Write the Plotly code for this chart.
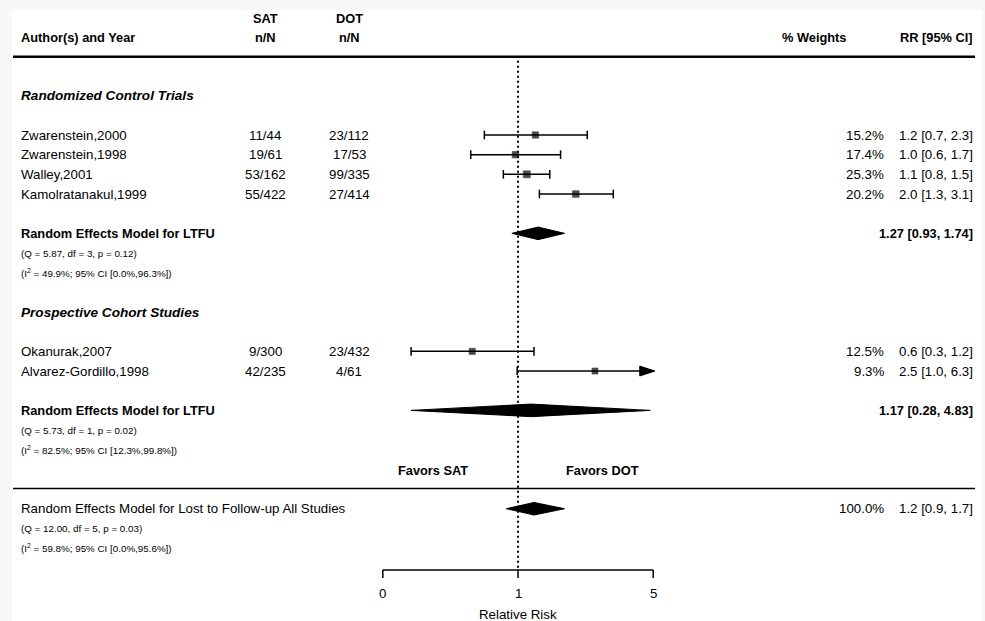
import math
import plotly.graph_objects as go

# ---------------- data ----------------
rct_studies = ["Zwarenstein,2000", "Zwarenstein,1998", "Walley,2001", "Kamolratanakul,1999"]
rct_sat = ["11/44", "19/61", "53/162", "55/422"]
rct_dot = ["23/112", "17/53", "99/335", "27/414"]
rct_weight = [15.2, 17.4, 25.3, 20.2]
rct_rr = [1.23, 0.97, 1.11, 1.99]
rct_lo = [0.67, 0.57, 0.84, 1.29]
rct_hi = [2.28, 1.66, 1.46, 3.11]

coh_studies = ["Okanurak,2007", "Alvarez-Gordillo,1998"]
coh_sat = ["9/300", "42/235"]
coh_dot = ["23/432", "4/61"]
coh_weight = [12.5, 9.3]
coh_rr = [0.58, 2.50]
coh_lo = [0.28, 0.99]
coh_hi = [1.21, 6.3]

summary_names = ["Random Effects Model for LTFU", "Random Effects Model for LTFU",
                 "Random Effects Model for Lost to Follow-up All Studies"]
summary_rr = [1.27, 1.17, 1.21]
summary_lo = [0.93, 0.28, 0.87]
summary_hi = [1.74, 4.83, 1.74]
summary_rr_text = ["1.27 [0.93, 1.74]", "1.17 [0.28, 4.83]", "1.2 [0.9, 1.7]"]
summary_weight_text = ["", "", "100.0%"]
summary_q = ["(Q = 5.87, df = 3, p = 0.12)", "(Q = 5.73, df = 1, p = 0.02)",
             "(Q = 12.00, df = 5, p = 0.03)"]
summary_i2 = ["(I<sup>2</sup> = 49.9%; 95% CI [0.0%,96.3%])",
              "(I<sup>2</sup> = 82.5%; 95% CI [12.3%,99.8%])",
              "(I<sup>2</sup> = 59.8%; 95% CI [0.0%,95.6%])"]

group_titles = ["Randomized Control Trials", "Prospective Cohort Studies"]
axis_ticks = [0.2, 1, 5]
axis_tick_labels = ["0", "1", "5"]
axis_title = "Relative Risk"
favors_labels = ["Favors SAT", "Favors DOT"]

# ---------------- layout geometry ----------------
W, H = 985, 621
X0PX, PXLN = 518.0, 84.0          # pixel of RR=1, pixels per ln unit
R0PX, ROWPX = 135.0, 19.67        # pixel of row 0, pixels per row
x_range = [-X0PX / PXLN, (W - X0PX) / PXLN]
y_range = [(H - R0PX) / ROWPX, -R0PX / ROWPX]

rct_rows = [0, 1, 2, 3]
coh_rows = [11, 12]
summary_rows = [5, 14, 19]
title_rows = [-2, 9]
ROW_H1, ROW_H2, ROW_HLINE = -5.93, -4.97, -3.98
ROW_FAV, ROW_SEP, ROW_AXIS, ROW_TICKLAB, ROW_XLAB = 17.05, 17.97, 22.12, 23.3, 24.4
XMAX = max(axis_ticks)

FONT = "Liberation Sans, Arial, sans-serif"
NORMAL, BOLD, SMALL, TITLE = 13.3, 12.8, 9.8, 13.6
CAP = 0.22
DIAM = 0.32

def px(xp):
    return xp / W

L = math.log
studies = rct_studies + coh_studies
sat = rct_sat + coh_sat
dot = rct_dot + coh_dot
weight = rct_weight + coh_weight
rr = rct_rr + coh_rr
lo = rct_lo + coh_lo
hi = rct_hi + coh_hi
rows = rct_rows + coh_rows

fig = go.Figure()

# CI lines with caps
lx, ly = [], []
for r, a, b in zip(rows, lo, hi):
    bb = min(b, XMAX)
    lx += [L(a), L(bb), None, L(a), L(a), None]
    ly += [r, r, None, r - CAP, r + CAP, None]
    if b <= XMAX:
        lx += [L(b), L(b), None]
        ly += [r - CAP, r + CAP, None]
fig.add_trace(go.Scatter(x=lx, y=ly, mode="lines", line=dict(color="black", width=1.5),
                         hoverinfo="skip", showlegend=False))

# arrows for truncated CIs
for r, b in zip(rows, hi):
    if b > XMAX:
        t = L(XMAX) + 0.02
        fig.add_trace(go.Scatter(x=[t, t - 0.18, t - 0.18, t], y=[r, r - 0.25, r + 0.25, r],
                                 mode="lines", fill="toself", fillcolor="black",
                                 line=dict(color="black", width=1), hoverinfo="skip",
                                 showlegend=False))

# squares
fig.add_trace(go.Scatter(x=[L(v) for v in rr], y=rows, mode="markers",
                         marker=dict(symbol="square", color="black",
                                     size=[5.5 + w * 0.06 for w in weight],
                                     line=dict(width=0.6, color="black")),
                         hoverinfo="skip", showlegend=False))

# diamonds
for r, e, a, b in zip(summary_rows, summary_rr, summary_lo, summary_hi):
    fig.add_trace(go.Scatter(x=[L(a), L(e), L(b), L(e), L(a)],
                             y=[r, r - DIAM, r, r + DIAM, r],
                             mode="lines", fill="toself", fillcolor="black",
                             line=dict(color="black", width=1), hoverinfo="skip",
                             showlegend=False))

# dotted reference line at RR = 1
fig.add_trace(go.Scatter(x=[0, 0], y=[ROW_HLINE + 0.2, ROW_AXIS], mode="lines",
                         line=dict(color="black", width=2, dash="2px,3px"),
                         hoverinfo="skip", showlegend=False))

# axis line with ticks
ax_x = [L(axis_ticks[0]), L(axis_ticks[-1]), None]
ax_y = [ROW_AXIS, ROW_AXIS, None]
for t in axis_ticks:
    ax_x += [L(t), L(t), None]
    ax_y += [ROW_AXIS, ROW_AXIS + 0.4, None]
fig.add_trace(go.Scatter(x=ax_x, y=ax_y, mode="lines", line=dict(color="black", width=1.5),
                         hoverinfo="skip", showlegend=False))

ann = []

def text(x, y, s, size=NORMAL, anchor="left", bold=False, italic=False, xref="paper"):
    if bold:
        s = "<b>" + s + "</b>"
    if italic:
        s = "<i>" + s + "</i>"
    ann.append(dict(x=x, y=y, xref=xref, yref="y", text=s, showarrow=False,
                    xanchor=anchor, yanchor="middle",
                    font=dict(family=FONT, size=size, color="black")))

LEFT = px(19)
SATX, DOTX, WX, RRX = px(265), px(349), px(886), px(974.5)

# headers
text(LEFT, ROW_H2, "Author(s) and Year", BOLD, bold=True)
text(SATX, ROW_H1, "SAT", BOLD, "center", bold=True)
text(SATX, ROW_H2, "n/N", BOLD, "center", bold=True)
text(DOTX, ROW_H1, "DOT", BOLD, "center", bold=True)
text(DOTX, ROW_H2, "n/N", BOLD, "center", bold=True)
text(px(848), ROW_H2, "% Weights", BOLD, "right", bold=True)
text(RRX, ROW_H2, "RR [95% CI]", BOLD, "right", bold=True)

for r, g in zip(title_rows, group_titles):
    text(LEFT, r, g, TITLE, bold=True, italic=True)

for r, s, a, d, w, e, l, h in zip(rows, studies, sat, dot, weight, rr, lo, hi):
    text(LEFT, r, s)
    text(SATX, r, a, anchor="center")
    text(DOTX, r, d, anchor="center")
    text(WX, r, f"{w:.1f}%", anchor="right")
    text(RRX, r, f"{e:.1f} [{l:.1f}, {h:.1f}]", anchor="right")

for i, (r, nm, rt, wt, q, i2) in enumerate(zip(summary_rows, summary_names, summary_rr_text,
                                               summary_weight_text, summary_q, summary_i2)):
    overall = i == len(summary_rows) - 1
    text(LEFT, r, nm, NORMAL if overall else BOLD, bold=not overall)
    text(RRX, r, rt, NORMAL if overall else BOLD, "right", bold=not overall)
    if wt:
        text(WX, r, wt, anchor="right")
    text(LEFT, r + 1, q, SMALL)
    text(LEFT, r + 2, i2, SMALL)

text(-1.01, ROW_FAV, favors_labels[0], BOLD, "center", bold=True, xref="x")
text(1.0, ROW_FAV, favors_labels[1], BOLD, "center", bold=True, xref="x")

for t, lab in zip(axis_ticks, axis_tick_labels):
    text(L(t), ROW_TICKLAB, lab, NORMAL, "center", xref="x")
text(0, ROW_XLAB, axis_title, NORMAL, "center", xref="x")

shapes = [
    dict(type="rect", xref="paper", yref="paper", x0=px(12), x1=px(982), y0=0, y1=1 - 10 / H,
         fillcolor="white", line=dict(width=0), layer="below"),
    dict(type="line", xref="paper", yref="y", x0=px(13), x1=px(975), y0=ROW_HLINE, y1=ROW_HLINE,
         line=dict(color="black", width=2.5)),
    dict(type="line", xref="paper", yref="y", x0=px(13), x1=px(975), y0=ROW_SEP, y1=ROW_SEP,
         line=dict(color="black", width=1.5)),
]

fig.update_layout(
    width=W, height=H, autosize=False,
    margin=dict(l=0, r=0, t=0, b=0, pad=0),
    paper_bgcolor="#f7f7f7", plot_bgcolor="rgba(0,0,0,0)",
    xaxis=dict(range=x_range, visible=False, fixedrange=True),
    yaxis=dict(range=y_range, visible=False, fixedrange=True),
    annotations=ann, shapes=shapes, showlegend=False,
)

fig.write_html(
    "out.html",
    config={"displayModeBar": False},
    post_script="document.body.style.margin='0';document.body.style.overflow='hidden';",
)
